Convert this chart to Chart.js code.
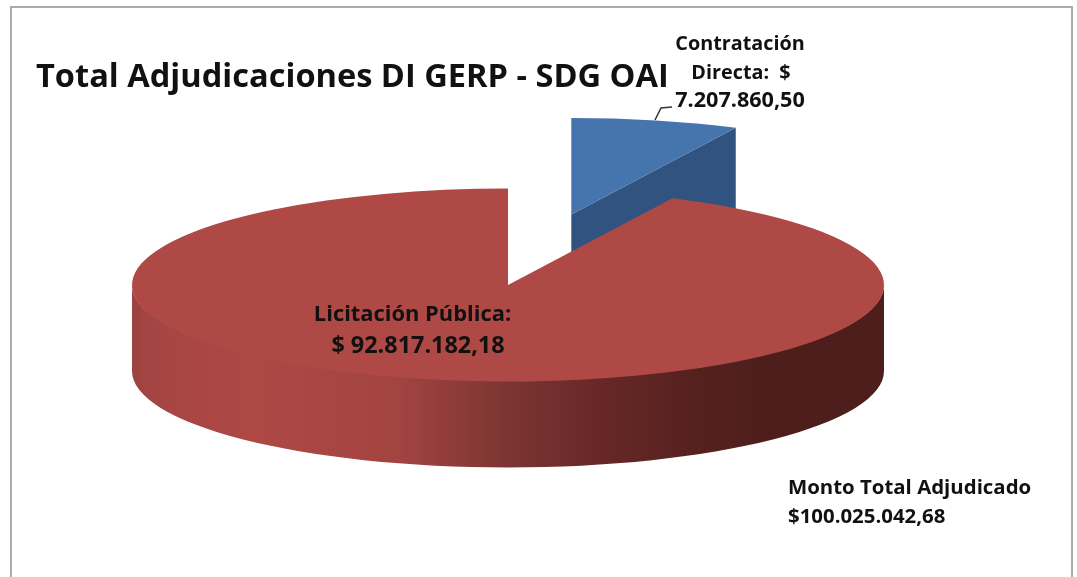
<!DOCTYPE html>
<html>
<head>
<meta charset="utf-8">
<title>Total Adjudicaciones</title>
<script src="https://cdn.jsdelivr.net/npm/chart.js@4"></script>
<style>
  html, body { margin: 0; padding: 0; background: #fff; overflow: hidden; }
  canvas { display: block; }
</style>
</head>
<body>
<canvas id="pieChart" width="1077" height="577"></canvas>
<script>
const categories = ["Contratación Directa", "Licitación Pública"];
const montos = [7207860.50, 92817182.18];
const colores = ["#4675AE", "#AF4946"];

const titulo = "Total Adjudicaciones DI GERP - SDG OAI";
const etiquetaDirecta = ["Contratación", "Directa:  $", "7.207.860,50"];
const etiquetaLicitacion = ["Licitación Pública:", "$ 92.817.182,18"];
const etiquetaTotal = ["Monto Total Adjudicado", "$100.025.042,68"];

// pie is squashed into an ellipse, walls are drawn below it
const RX = 376, RY = 96.5, DEPTH = 86;
const EXPLODE = [0.75, 0];

const pie3d = {
  id: "pie3d",
  beforeDatasetDraw(chart, args) {
    const ctx = chart.ctx;
    const arcs = args.meta.data;
    const blue = arcs[0];
    const cx = blue.x, cy = blue.y;
    const r = blue.outerRadius;

    const shift = arcs.map((arc, i) => {
      const mid = (arc.startAngle + arc.endAngle) / 2;
      return {
        x: Math.cos(mid) * EXPLODE[i] * RX,
        y: Math.sin(mid) * EXPLODE[i] * RY
      };
    });

    // blue slice, cut face
    const bx = cx + shift[0].x;
    const by = cy + shift[0].y;
    const ex = bx + Math.cos(blue.endAngle) * RX;
    const ey = by + Math.sin(blue.endAngle) * RY;
    ctx.fillStyle = "#30547F";
    ctx.beginPath();
    ctx.moveTo(bx, by);
    ctx.lineTo(ex, ey);
    ctx.lineTo(ex, ey + DEPTH);
    ctx.lineTo(bx, by + DEPTH);
    ctx.closePath();
    ctx.fill();

    // red slice, front wall
    const g = ctx.createLinearGradient(cx - RX, 0, cx + RX, 0);
    g.addColorStop(0, "#9C4240");
    g.addColorStop(0.03, "#A54543");
    g.addColorStop(0.16, "#AE4845");
    g.addColorStop(0.35, "#A34441");
    g.addColorStop(0.5, "#7C3533");
    g.addColorStop(0.62, "#672826");
    g.addColorStop(0.75, "#55211F");
    g.addColorStop(0.85, "#4E1E1C");
    g.addColorStop(1, "#4E1E1C");
    ctx.fillStyle = g;
    ctx.beginPath();
    ctx.ellipse(cx, cy, RX, RY - 2, 0, 0, Math.PI);
    ctx.ellipse(cx, cy + DEPTH, RX, RY, 0, Math.PI, 0, true);
    ctx.closePath();
    ctx.fill();

    // the library's arcs, each one squashed and moved out
    arcs.forEach((arc, i) => {
      ctx.save();
      ctx.translate(cx + shift[i].x, cy + shift[i].y);
      ctx.scale(RX / r, RY / r);
      ctx.translate(-cx, -cy);
      arc.draw(ctx);
      ctx.restore();
    });
    return false;
  },
  afterDraw(chart) {
    const ctx = chart.ctx;
    ctx.save();
    // chart frame
    ctx.strokeStyle = "#ABABAB";
    ctx.lineWidth = 2;
    ctx.beginPath();
    ctx.moveTo(11, 578);
    ctx.lineTo(11, 7);
    ctx.lineTo(1072, 7);
    ctx.lineTo(1072, 578);
    ctx.stroke();

    // leader line
    ctx.strokeStyle = "#333";
    ctx.lineWidth = 1.5;
    ctx.beginPath();
    ctx.moveTo(655, 120);
    ctx.lineTo(661, 108);
    ctx.lineTo(672, 107);
    ctx.stroke();

    ctx.fillStyle = "#111";
    ctx.textBaseline = "alphabetic";
    ctx.textAlign = "left";
    ctx.font = "bold 32.6px 'Open Sans'";
    ctx.fillText(titulo, 36, 87);

    ctx.font = "bold 19.8px 'Open Sans'";
    ctx.textAlign = "center";
    ctx.fillText(etiquetaDirecta[0], 740, 50);
    ctx.fillText(etiquetaDirecta[1], 741, 78.5);
    ctx.font = "bold 21.6px 'Open Sans'";
    ctx.fillText(etiquetaDirecta[2], 740, 107);
    ctx.font = "bold 21.9px 'Open Sans'";
    ctx.fillText(etiquetaLicitacion[0], 412.5, 321);
    ctx.font = "bold 23.4px 'Open Sans'";
    ctx.fillText(etiquetaLicitacion[1], 418, 353);
    ctx.textAlign = "left";
    ctx.font = "bold 20.4px 'Open Sans'";
    etiquetaTotal.forEach((t, i) => ctx.fillText(t, 788, 494 + i * 29));
    ctx.restore();
  }
};

new Chart(document.getElementById("pieChart"), {
  type: "pie",
  data: {
    labels: categories,
    datasets: [{
      data: montos,
      backgroundColor: colores,
      borderWidth: 0
    }]
  },
  options: {
    responsive: false,
    animation: false,
    events: [],
    layout: { padding: { left: 0, right: 61, top: 0, bottom: 7 } },
    plugins: { legend: { display: false }, tooltip: { enabled: false } }
  },
  plugins: [pie3d]
});
</script>
</body>
</html>
